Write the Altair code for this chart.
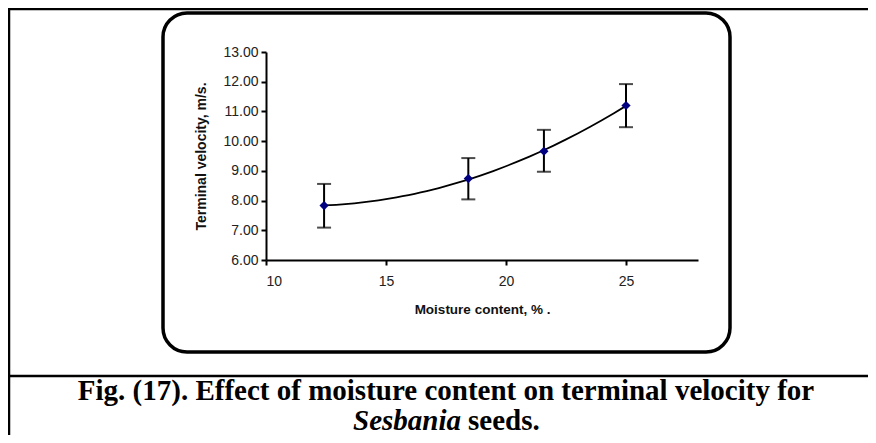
import altair as alt
import pandas as pd

# Data
moisture = [12.42, 18.43, 21.58, 25.0]
velocity = [7.83, 8.74, 9.66, 11.20]
err_low = [7.09, 8.04, 8.97, 10.47]
err_high = [8.56, 9.43, 10.38, 11.92]

x_ticks = [10, 15, 20, 25]
y_ticks = [6, 7, 8, 9, 10, 11, 12, 13]

caption1 = "Fig. (17). Effect of moisture content on terminal velocity for"
caption2_italic = "Sesbania"
caption2_rest = "seeds."

df = pd.DataFrame({"x": moisture, "y": velocity, "lo": err_low, "hi": err_high})
one = pd.DataFrame({"a": [0]})

W, H = 432, 208
PAD_L, PAD_T = 258, 44
PAD_R = 860 - PAD_L - W
PAD_B = 427 - PAD_T - H

xscale = alt.Scale(domain=[10, 28], nice=False, zero=False)
yscale = alt.Scale(domain=[6, 13], nice=False, zero=False)

xaxis = alt.Axis(
    values=x_ticks, title="Moisture content, % .", grid=False, labelOverlap=False,
    domainColor="black", domainWidth=2, tickColor="black", tickWidth=2, tickSize=5,
    labelFont="Liberation Sans", labelFontSize=14, labelColor="#222", labelPadding=9,
    titleFont="Liberation Sans", titleFontSize=13.5, titleFontWeight="bold",
    titleColor="#111", titlePadding=14,
)
yaxis = alt.Axis(
    values=y_ticks, format=".2f", title="Terminal velocity, m/s.", grid=False,
    labelOverlap=False,
    domainColor="black", domainWidth=2, tickColor="black", tickWidth=2, tickSize=5,
    labelFont="Liberation Sans", labelFontSize=14, labelColor="#222", labelPadding=3,
    titleFont="Liberation Sans", titleFontSize=14, titleFontWeight="bold",
    titleColor="#111", titlePadding=14,
)

X = alt.X("x:Q", scale=xscale, axis=xaxis)


def Y(field):
    return alt.Y(field, type="quantitative", scale=yscale, axis=yaxis)


base = alt.Chart(df)

trend = base.mark_line(color="black", strokeWidth=1.8).transform_regression(
    "x", "y", method="poly", order=2
).encode(x=X, y=Y("y"))

bars = base.mark_rule(color="black", strokeWidth=2).encode(
    x=X, y=Y("lo"), y2="hi:Q"
)
cap_lo = base.mark_tick(color="black", thickness=2, size=14, orient="horizontal").encode(
    x=X, y=Y("lo")
)
cap_hi = base.mark_tick(color="black", thickness=2, size=14, orient="horizontal").encode(
    x=X, y=Y("hi")
)
points = base.mark_point(shape="diamond", filled=True, color="#000080", size=85, opacity=1).encode(
    x=X, y=Y("y")
)

# Decorations (frame, rounded box, caption)
frame_top = alt.Chart(one).mark_rule(color="black", strokeWidth=2.5).encode(
    x=alt.value(-257), x2=alt.value(PAD_R + W + 10), y=alt.value(-43)
)
frame_left = alt.Chart(one).mark_rule(color="black", strokeWidth=2.5).encode(
    x=alt.value(-257), y=alt.value(-44), y2=alt.value(H + PAD_B + 10)
)
frame_mid = alt.Chart(one).mark_rule(color="black", strokeWidth=2.5).encode(
    x=alt.value(-257), x2=alt.value(PAD_R + W + 10), y=alt.value(324)
)
box = alt.Chart(one).mark_rect(
    fillOpacity=0, stroke="black", strokeWidth=3.5, cornerRadius=24
).encode(
    x=alt.value(-103), x2=alt.value(464), y=alt.value(-39), y2=alt.value(300)
)
cap1 = alt.Chart(one).mark_text(
    text=caption1, font="Liberation Serif", fontSize=29, fontWeight="bold",
    align="center", baseline="alphabetic", color="black"
).encode(x=alt.value(180), y=alt.value(348))
cap2a = alt.Chart(one).mark_text(
    text=caption2_italic, font="Liberation Serif", fontSize=29, fontWeight="bold",
    fontStyle="italic", align="right", baseline="alphabetic", color="black"
).encode(x=alt.value(195), y=alt.value(378))
cap2b = alt.Chart(one).mark_text(
    text=caption2_rest, font="Liberation Serif", fontSize=29, fontWeight="bold",
    align="left", baseline="alphabetic", color="black"
).encode(x=alt.value(202), y=alt.value(378))

chart = alt.layer(
    frame_top, frame_left, frame_mid, box, cap1, cap2a, cap2b,
    trend, bars, cap_lo, cap_hi, points,
).properties(
    width=W, height=H,
    autosize=alt.AutoSizeParams(type="none"),
    padding={"left": PAD_L, "top": PAD_T, "right": PAD_R, "bottom": PAD_B},
    background="white",
).configure_view(stroke=None)

chart.save("out.html", embed_options={"renderer": "svg", "actions": False})
